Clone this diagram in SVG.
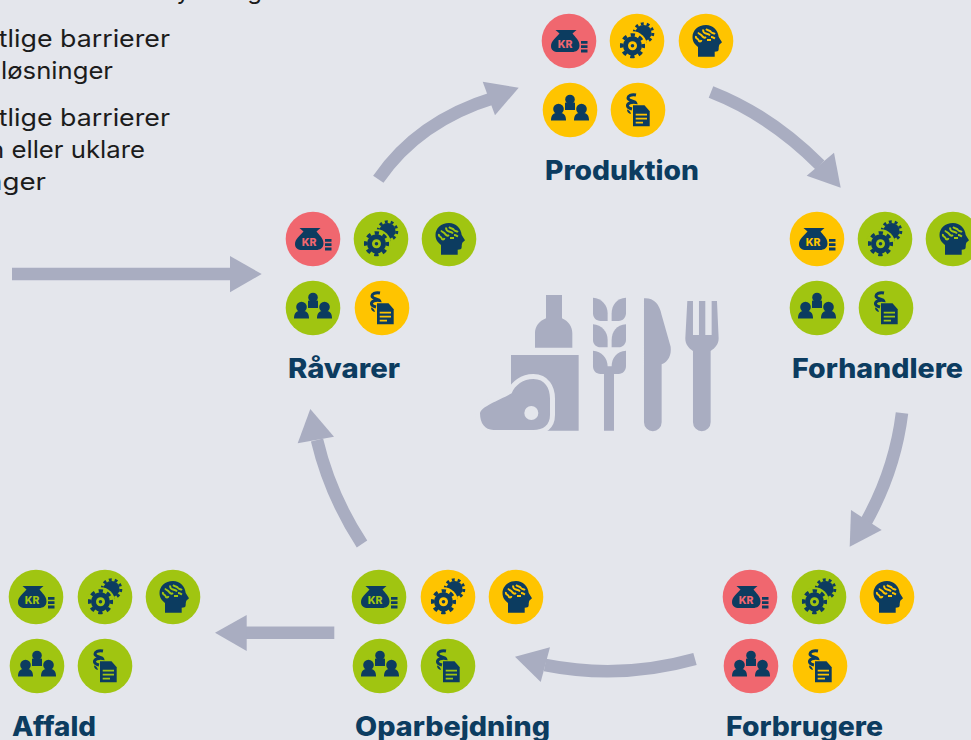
<svg xmlns="http://www.w3.org/2000/svg" width="971" height="740" viewBox="0 0 971 740">
<style>
.r{color:#f0676f}.y{color:#ffc400}.g{color:#a0c511}
.kr{fill:currentColor;font:800 10.500px Inter,"Liberation Sans",sans-serif;text-anchor:middle}
.lab{fill:#0c3c60;font:800 27px Inter,"Liberation Sans",sans-serif}
.body{fill:#1c1c1c;font:400 24px Inter,"Liberation Sans",sans-serif;text-anchor:end}
.band{fill:none;stroke:#a9adc1;stroke-width:12.5}
.head{fill:#a9adc1}
.d{fill:#0c3c60}
.food{fill:#a9adc1}
</style>
<defs>
<g id="bag"><circle r="27.3" fill="currentColor"/>
<path class="d" d="M-13.500,-11H7.500L3.500,-7.500C6,-4 10.500,-1 10.500,4.500C10.500,9 7,11 3,11H-11C-15,11 -18,9 -18,5C-18,0 -13,-3.500 -9.500,-7.500Z"/>
<path class="d" d="M12,0h6.500v2.800h-6.500zM12,4.300h6.500v2.800h-6.500zM12,8.600h6.500v2.800h-6.500z"/></g>
<g id="gear"><circle r="27.300" fill="currentColor"/>
<circle class="d" cx="6.500" cy="-8" r="8"/>
<circle cx="6.500" cy="-8" r="9.300" fill="none" stroke="#0c3c60" stroke-width="3" stroke-dasharray="2.900 2.940"/>
<circle cx="-4.500" cy="4.700" r="14.500" fill="currentColor"/>
<circle class="d" cx="-4.500" cy="4.700" r="9.500"/>
<circle cx="-4.500" cy="4.700" r="10.800" fill="none" stroke="#0c3c60" stroke-width="3.500" stroke-dasharray="4.300 4.180" stroke-dashoffset="2.150"/>
<circle cx="-4.500" cy="4.700" r="4.500" fill="currentColor"/><circle class="d" cx="-4.500" cy="4.700" r="1.800"/></g>
<g id="head"><circle r="27.300" fill="currentColor"/>
<path class="d" d="M-8,15.700H8.700V10.700C11,10.700 12.700,10.300 12.700,8C12.700,6 13,4.500 13.500,3.500L16,1.300L12.700,-4C12,-11 7,-16 0,-16C-8,-16 -13.500,-10.500 -13.500,-4C-13.500,1 -11,3.500 -8,6Z"/>
<path d="M-10,-5C-11,-2 -8,-3 -7.500,-1C-7,1 -5,1 -4.500,-1M-8,-8.500C-6,-6 -5,-7 -3.500,-4.500C-2,-3 -1,-3 0,-4M-3,-11.500C-3,-9 -2,-8 0,-7.500C2,-7 3,-7 4,-5.500M0,-12C2,-10 4,-11 5,-9C6,-7.500 8,-8 9,-7M5,-4C7,-4 8,-3 9,-2.500M1,-1L5,-1" fill="none" stroke="currentColor" stroke-width="1.900"/></g>
<g id="people"><circle r="27.300" fill="currentColor"/>
<circle class="d" cy="-10.500" r="4.800"/><path class="d" d="M-5,-7.500C-3,-6.500 3,-6.500 5,-7.500V0H-5Z"/>
<circle class="d" cx="-11.500" cy="-1" r="5.300"/><path class="d" d="M-19,10.500C-19,6 -17.500,3.500 -14,3H-9C-5.500,3.500 -4,6 -4,10.500Z"/>
<circle class="d" cx="11.500" cy="-1" r="5.300"/><path class="d" d="M4,10.500C4,6 5.500,3.500 9,3H14C17.500,3.500 19,6 19,10.500Z"/></g>
<g id="doc"><circle r="27.300" fill="currentColor"/>
<path class="d" d="M-5,-4.700H6.500L11.700,1.300V16.300H-5Z"/>
<path d="M-2.300,4.700H9M-2.300,8.700H9M-2.300,12.700H5" fill="none" stroke="currentColor" stroke-width="1.700"/>
<path d="M-2,-15C-7,-16 -10,-14 -10,-12C-10,-9 -3,-9 -2.500,-7.500C-6,-8 -11,-7 -10.500,-4C-10.300,-2.500 -8,-1.500 -6,-1" fill="none" stroke="#0c3c60" stroke-width="3"/>
<path class="d" d="M-11,-0.500C-9,0 -7.500,1.500 -7,4C-9.500,3.500 -11,2 -11,-0.500Z"/></g>
</defs>
<rect width="971" height="740" fill="#e4e6ec"/>

<g id="intro">
<text class="body" x="190" y="-1">y</text>
<text class="body" x="262" y="-1">g</text>
<text class="body" x="170" y="47" textLength="187" lengthAdjust="spacingAndGlyphs">ntlige barrierer</text>
<text class="body" x="113" y="79" textLength="112" lengthAdjust="spacingAndGlyphs">løsninger</text>
<text class="body" x="170" y="126" textLength="187" lengthAdjust="spacingAndGlyphs">ntlige barrierer</text>
<text class="body" x="145" y="158" textLength="156" lengthAdjust="spacingAndGlyphs">n eller uklare</text>
<text class="body" x="46" y="190" textLength="60" lengthAdjust="spacingAndGlyphs">nger</text>
</g>

<g id="connectors">
<path class="band" d="M12,274H232"/><polygon class="head" points="261.700,274 230,256 230,292.300"/>
<path class="band" d="M378.300,179.300Q418,121 495,97.500"/><polygon class="head" points="518.700,87.700 482.700,81.700 495,115.300"/>
<path class="band" d="M711,92Q770,115 820,165"/><polygon class="head" points="840.700,187.700 834,152.700 806.700,175.700"/>
<path class="band" d="M902,413Q895,470 866,522"/><polygon class="head" points="849.700,546.700 851,510 881.700,530"/>
<path class="band" d="M695,659Q620,680 545,665"/><polygon class="head" points="515,656.700 550,647.300 540.700,682"/>
<path class="band" d="M334.300,632.700H245"/><polygon class="head" points="215,632.700 246.700,615 246.700,651"/>
<path class="band" d="M362,544Q330,495 317,440"/><polygon class="head" points="310.300,409 297.700,443.300 334,436.700"/>
</g>

<g id="food" class="food" transform="translate(470 285) scale(.3333)">
<path d="M228,30H276V100C295,108 307,125 307,145V188H195V145C195,125 207,108 228,100Z"/>
<path d="M123,210H326V437H123Z"/>
<path d="M30,385C32,365 90,345 125,325C135,300 160,282 190,282C225,282 240,310 240,340V390C240,420 220,435 190,435H70C45,435 30,415 30,385Z" stroke="#e4e6ec" stroke-width="30" paint-order="stroke"/>
<circle cx="184" cy="384" r="21" fill="#e4e6ec"/>
<path d="M369,38C395,40 413,60 413,85V108H392C378,108 369,98 369,85Z"/>
<path d="M468,38C440,40 425,60 425,85V108H446C458,108 468,98 468,85Z"/>
<path d="M369,118C395,120 413,140 413,165V187H392C378,187 369,177 369,165Z"/>
<path d="M468,118C440,120 425,140 425,165V187H446C458,187 468,177 468,165Z"/>
<path d="M369,197C395,199 413,219 413,244H425C425,219 440,199 468,197V244C468,257 458,267 446,267H432V437H402V267H392C378,267 369,257 369,244Z"/>
<path d="M522,40C550,38 568,55 575,90L602,185C605,210 595,230 575,238V412A26.500,26.500 0 0 1 522,412Z"/>
<path d="M652,48H669V150H687V48H706V150H725V48H741L746,160C746,178 735,190 722,198V412A26.500,26.500 0 0 1 669,412V198C656,190 646,178 646,160Z"/>
</g>

<g id="node-produktion">
<use href="#bag" x="569" y="41" class="r"/><text class="kr r" x="565" y="47.500">KR</text>
<use href="#gear" x="637" y="41" class="y"/><use href="#head" x="706" y="41" class="y"/>
<use href="#people" x="570" y="110" class="y"/><use href="#doc" x="638" y="110" class="y"/>
<text class="lab" x="545" y="180" textLength="154" lengthAdjust="spacingAndGlyphs">Produktion</text>
</g>
<g id="node-forhandlere">
<use href="#bag" x="817" y="239" class="y"/><text class="kr y" x="813" y="245.500">KR</text>
<use href="#gear" x="885" y="239" class="g"/><use href="#head" x="953" y="239" class="g"/>
<use href="#people" x="817" y="308" class="g"/><use href="#doc" x="886" y="308" class="g"/>
<text class="lab" x="792" y="378" textLength="171" lengthAdjust="spacingAndGlyphs">Forhandlere</text>
</g>
<g id="node-raavarer">
<use href="#bag" x="313" y="239" class="r"/><text class="kr r" x="309" y="245.500">KR</text>
<use href="#gear" x="381" y="239" class="g"/><use href="#head" x="449" y="239" class="g"/>
<use href="#people" x="313" y="308" class="g"/><use href="#doc" x="382" y="308" class="y"/>
<text class="lab" x="288" y="378" textLength="112" lengthAdjust="spacingAndGlyphs">Råvarer</text>
</g>
<g id="node-forbrugere">
<use href="#bag" x="750" y="597" class="r"/><text class="kr r" x="746" y="603.500">KR</text>
<use href="#gear" x="819" y="597" class="g"/><use href="#head" x="887" y="597" class="y"/>
<use href="#people" x="751" y="666" class="r"/><use href="#doc" x="820" y="666" class="y"/>
<text class="lab" x="726" y="736" textLength="157" lengthAdjust="spacingAndGlyphs">Forbrugere</text>
</g>
<g id="node-oparbejdning">
<use href="#bag" x="379" y="597" class="g"/><text class="kr g" x="375" y="603.500">KR</text>
<use href="#gear" x="448" y="597" class="y"/><use href="#head" x="516" y="597" class="y"/>
<use href="#people" x="380" y="666" class="g"/><use href="#doc" x="448" y="666" class="g"/>
<text class="lab" x="355" y="736" textLength="195" lengthAdjust="spacingAndGlyphs">Oparbejdning</text>
</g>
<g id="node-affald">
<use href="#bag" x="36" y="597" class="g"/><text class="kr g" x="32" y="603.500">KR</text>
<use href="#gear" x="105" y="597" class="g"/><use href="#head" x="173" y="597" class="g"/>
<use href="#people" x="37" y="666" class="g"/><use href="#doc" x="105" y="666" class="g"/>
<text class="lab" x="12" y="736" textLength="84" lengthAdjust="spacingAndGlyphs">Affald</text>
</g>
</svg>
